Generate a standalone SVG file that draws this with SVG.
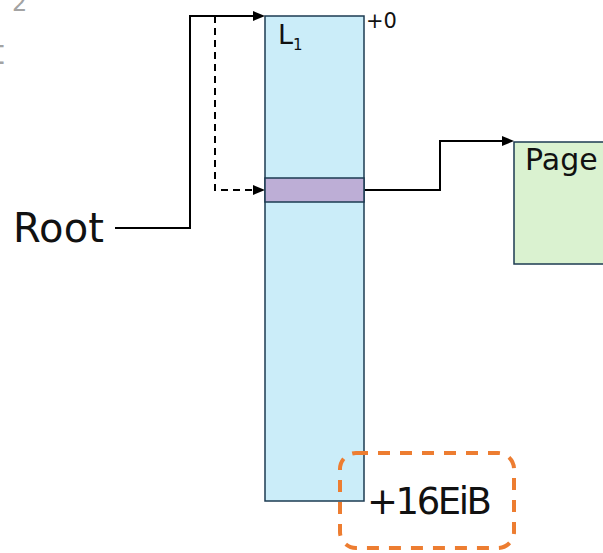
<svg xmlns="http://www.w3.org/2000/svg" width="603" height="553" viewBox="0 0 603 553">
<style>
.lbl{font-family:"DejaVu Sans","Liberation Sans",sans-serif;fill:#111}
.ghost{font-family:"DejaVu Sans","Liberation Sans",sans-serif;fill:#a3a3a3}
.conn{fill:none;stroke:#000;stroke-width:2}
.box{stroke:#1d3b52;stroke-width:1.5}
</style>
<rect width="603" height="553" fill="#fff"/>
<text class="ghost" x="12" y="11" font-size="24">2</text>
<text class="ghost" x="-9" y="64" font-size="34">t</text>
<g id="connectors">
<polyline class="conn" points="115,228 190,228 190,16 255,16"/>
<polygon points="253,11 265,16 253,21" fill="#000"/>
<polyline class="conn" points="215,16 215,190 255,190" stroke-dasharray="7,5"/>
<polygon points="253,185 265,190 253,195" fill="#000"/>
<polyline class="conn" points="364,190 440,190 440,141 504,141"/>
<polygon points="502,136 514,141 502,146" fill="#000"/>
</g>
<g id="L1">
<rect class="box" x="265" y="16" width="99" height="485" fill="#cbedf9"/>
<text class="lbl" x="278" y="44" font-size="27">L<tspan font-size="15" dy="6">1</tspan></text>
<text class="lbl" x="366" y="28" font-size="21">+0</text>
</g>
<g id="entry">
<rect class="box" x="265" y="178" width="99" height="24" fill="#bdaed6"/>
</g>
<g id="page">
<rect class="box" x="514" y="142" width="100" height="122" fill="#daf2d0"/>
<text class="lbl" x="525" y="170" font-size="30">Page</text>
</g>
<g id="root">
<text class="lbl" x="13" y="242" font-size="40" textLength="91">Root</text>
</g>
<g id="size">
<rect x="340" y="453" width="174" height="95" rx="16" fill="none" stroke="#ed7d31" stroke-width="4" stroke-dasharray="12,10"/>
<text class="lbl" x="367" y="514" font-size="37" textLength="125">+16EiB</text>
</g>
</svg>
